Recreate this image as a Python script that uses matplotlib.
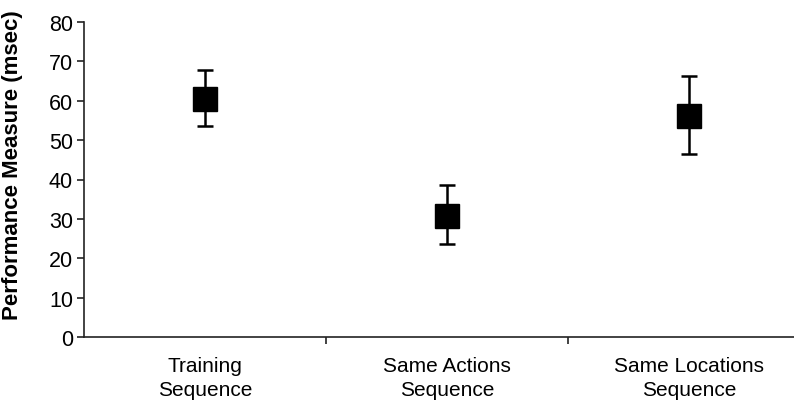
import matplotlib
matplotlib.use("Agg")
import matplotlib.pyplot as plt
import numpy as np

categories = ["Training\nSequence", "Same Actions\nSequence", "Same Locations\nSequence"]
means = [60.4, 30.8, 56.2]
upper = [67.8, 38.6, 66.3]
lower = [53.5, 23.5, 46.6]
yticks = [0, 10, 20, 30, 40, 50, 60, 70, 80]

plt.rcParams['font.family'] = ['Liberation Sans', 'DejaVu Sans']

W, H = 794, 402
fig = plt.figure(figsize=(W / 100, H / 100), dpi=100)
x0, x1 = 84, 810
ytop, ybot = 23, 338
ax = fig.add_axes([x0 / W, (H - ybot) / H, (x1 - x0) / W, (ybot - ytop) / H])

x = np.arange(len(categories))
m = np.array(means)
err = np.vstack([m - np.array(lower), np.array(upper) - m])
ax.errorbar(x, m, yerr=err, fmt='s', color='black', ecolor='black',
            markersize=17, elinewidth=1.8, capsize=6, capthick=1.8, zorder=3)

ax.set_xlim(-0.5, 2.5)
ax.set_ylim(0, 80)
ax.set_yticks(yticks)
ax.set_yticklabels([str(v) for v in yticks], fontsize=15.5)
ax.set_xticks(x)
ax.set_xticklabels(categories, fontsize=15, linespacing=1.32)
ax.set_xticks([0.5, 1.5], minor=True)
ax.tick_params(axis='x', which='major', length=0, pad=14)
ax.tick_params(axis='x', which='minor', length=5, width=1.2, direction='out', color='#222')
ax.tick_params(axis='y', length=5, width=1.2, direction='out', color='#222', pad=3)

for s in ['top', 'right']:
    ax.spines[s].set_visible(False)
for s in ['left', 'bottom']:
    ax.spines[s].set_color('#222')
    ax.spines[s].set_linewidth(1.2)

ax.set_ylabel("Performance Measure (msec)", fontsize=16, fontweight='bold')
ax.yaxis.set_label_coords((23 - 84) / (x1 - x0), (338 - 165.5) / 315)

fig.savefig("out.png", dpi=100)
